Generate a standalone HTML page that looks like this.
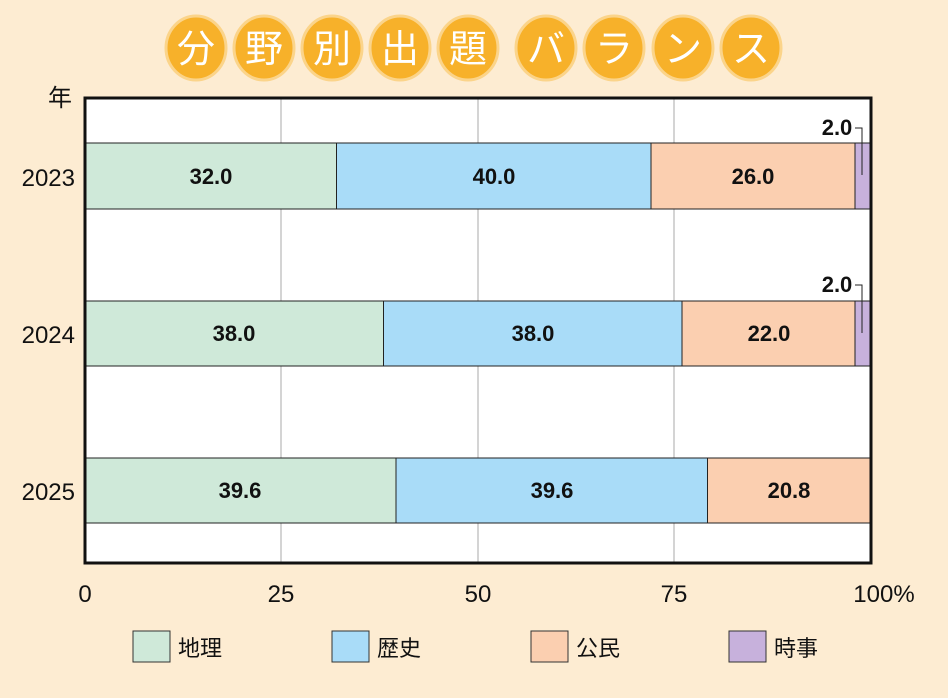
<!DOCTYPE html><html><head><meta charset="utf-8"><style>
body{margin:0;width:948px;height:693px;background:#fdecd2;overflow:hidden;font-family:"Liberation Sans","Noto Sans CJK JP",sans-serif}
</style></head><body>
<svg width="948" height="693" xmlns="http://www.w3.org/2000/svg" font-family="Liberation Sans, Noto Sans CJK JP, sans-serif">
<rect width="948" height="693" fill="#fdecd2"/>
<g font-size="38" fill="#fff" text-anchor="middle" font-family="Noto Sans CJK JP, sans-serif">
<g fill="#f7b12a" stroke="#fbd48a" stroke-width="3">
<ellipse cx="196" cy="48" rx="30" ry="32"/><ellipse cx="264" cy="48" rx="30" ry="32"/><ellipse cx="332" cy="48" rx="30" ry="32"/><ellipse cx="400" cy="48" rx="30" ry="32"/><ellipse cx="468" cy="48" rx="30" ry="32"/><ellipse cx="546" cy="48" rx="30" ry="32"/><ellipse cx="614" cy="48" rx="30" ry="32"/><ellipse cx="683" cy="48" rx="30" ry="32"/><ellipse cx="751" cy="48" rx="30" ry="32"/></g>
<text x="196" y="62">分</text><text x="264" y="62">野</text><text x="332" y="62">別</text><text x="400" y="62">出</text><text x="468" y="62">題</text><text x="546" y="62">バ</text><text x="614" y="62">ラ</text><text x="683" y="62">ン</text><text x="751" y="62">ス</text></g>
<rect x="85" y="98" width="786" height="465" fill="#fff"/>
<g stroke="#aaa" stroke-width="1"><line x1="281" y1="98" x2="281" y2="563"/><line x1="478" y1="98" x2="478" y2="563"/><line x1="674" y1="98" x2="674" y2="563"/></g>
<g stroke="#222" stroke-width="1">
<rect x="85" y="143" width="251.5" height="66" fill="#cfe9d9"/><rect x="336.5" y="143" width="314.5" height="66" fill="#a9dcf8"/><rect x="651" y="143" width="204" height="66" fill="#fbcfb0"/><rect x="855" y="143" width="16" height="66" fill="#c7b1dc"/>
<rect x="85" y="301" width="298.5" height="65" fill="#cfe9d9"/><rect x="383.5" y="301" width="298.5" height="65" fill="#a9dcf8"/><rect x="682" y="301" width="173" height="65" fill="#fbcfb0"/><rect x="855" y="301" width="16" height="65" fill="#c7b1dc"/>
<rect x="85" y="458" width="311" height="65" fill="#cfe9d9"/><rect x="396" y="458" width="311.5" height="65" fill="#a9dcf8"/><rect x="707.5" y="458" width="163.5" height="65" fill="#fbcfb0"/>
</g>
<rect x="85" y="98" width="786" height="465" fill="none" stroke="#111" stroke-width="3"/>
<g font-size="22" font-weight="bold" fill="#111" text-anchor="middle">
<text x="211" y="184">32.0</text><text x="494" y="184">40.0</text><text x="753" y="184">26.0</text>
<text x="234" y="341">38.0</text><text x="533" y="341">38.0</text><text x="769" y="341">22.0</text>
<text x="240" y="498">39.6</text><text x="552" y="498">39.6</text><text x="789" y="498">20.8</text>
<text x="837" y="135">2.0</text><text x="837" y="292">2.0</text></g>
<g stroke="#222" fill="none" stroke-width="1"><polyline points="855,128 862,128 862,175"/><polyline points="855,285 862,285 862,333"/></g>
<g font-size="24" fill="#111" text-anchor="end">
<text x="72" y="106">年</text><text x="75" y="186">2023</text><text x="75" y="343">2024</text><text x="75" y="500">2025</text></g>
<g font-size="24" fill="#111" text-anchor="middle">
<text x="85" y="602">0</text><text x="281" y="602">25</text><text x="478" y="602">50</text><text x="674" y="602">75</text><text x="884" y="602">100%</text></g>
<g stroke="#333" stroke-width="1">
<rect x="133" y="631" width="37" height="31" fill="#cfe9d9"/><rect x="332" y="631" width="37" height="31" fill="#a9dcf8"/><rect x="531" y="631" width="37" height="31" fill="#fbcfb0"/><rect x="729" y="631" width="37" height="31" fill="#c7b1dc"/></g>
<g font-size="22" fill="#111"><text x="178" y="656">地理</text><text x="377" y="656">歴史</text><text x="576" y="656">公民</text><text x="774" y="656">時事</text></g>
</svg></body></html>
